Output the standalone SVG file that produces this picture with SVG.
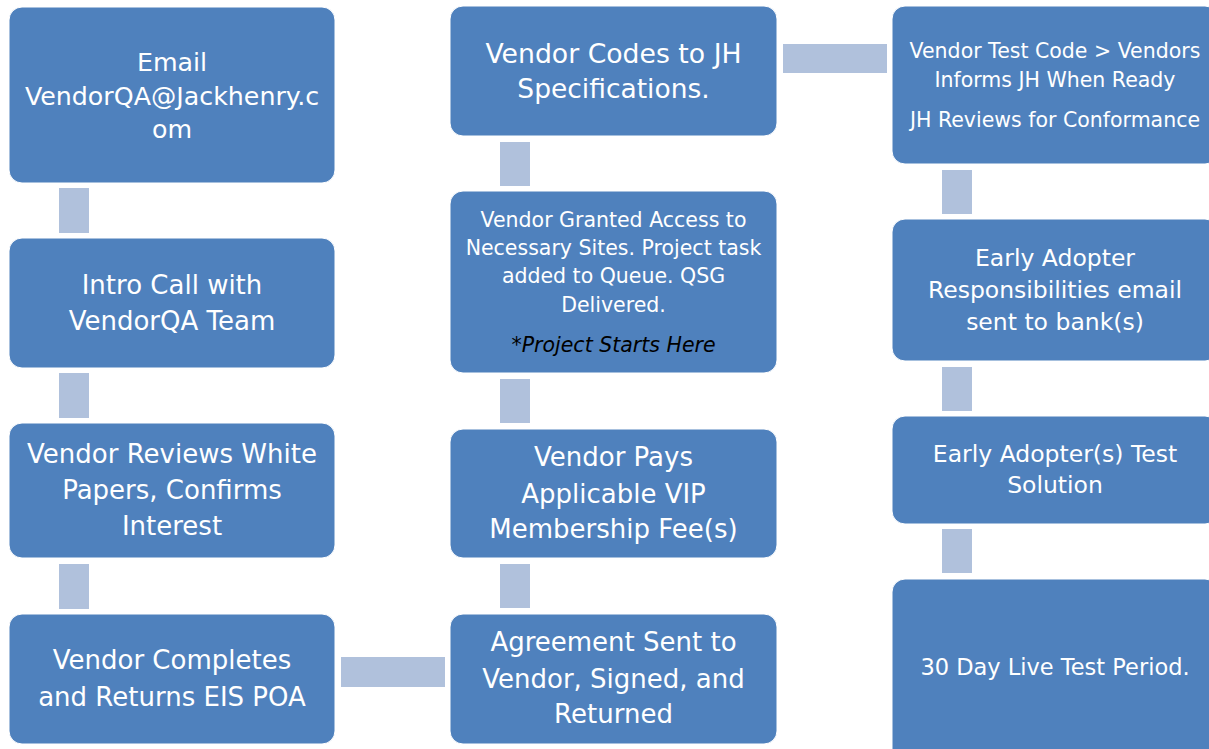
<svg xmlns="http://www.w3.org/2000/svg" width="1209" height="749" viewBox="0 0 1209 749">
<style>
.box{fill:#4F81BD;stroke:#FFFFFF;stroke-width:1}
.con{fill:#B0C1DC}
text{font-family:"DejaVu Sans",Verdana,sans-serif;fill:#FFFFFF;text-anchor:middle}
.l{font-size:26px}
.m{font-size:23.5px}
.s{font-size:20.5px}
.it{font-style:italic;fill:#000000}
</style>
<rect width="1209" height="749" fill="#FFFFFF"/>
<g id="connectors">
<rect class="con" x="59" y="188" width="30" height="45"/>
<rect class="con" x="59" y="373" width="30" height="45"/>
<rect class="con" x="59" y="564" width="30" height="45"/>
<rect class="con" x="341" y="657" width="104" height="30"/>
<rect class="con" x="500" y="564" width="30" height="44"/>
<rect class="con" x="500" y="379" width="30" height="44"/>
<rect class="con" x="500" y="142" width="30" height="44"/>
<rect class="con" x="783" y="44" width="104" height="29"/>
<rect class="con" x="942" y="170" width="30" height="44"/>
<rect class="con" x="942" y="367" width="30" height="44"/>
<rect class="con" x="942" y="529" width="30" height="44"/>
</g>
<g id="n1">
<rect class="box" x="9" y="7" width="326" height="176" rx="13"/>
<text style="font-size:25.3px" x="172" y="71">Email</text>
<text style="font-size:25.3px" x="172" y="105">VendorQA@Jackhenry.c</text>
<text style="font-size:25.3px" x="172" y="138">om</text>
</g>
<g id="n2">
<rect class="box" x="9" y="238" width="326" height="130" rx="13"/>
<text class="l" x="172" y="294">Intro Call with</text>
<text class="l" x="172" y="330">VendorQA Team</text>
</g>
<g id="n3">
<rect class="box" x="9" y="423" width="326" height="135" rx="13"/>
<text class="l" x="172" y="463">Vendor Reviews White</text>
<text class="l" x="172" y="499">Papers, Confirms</text>
<text class="l" x="172" y="535">Interest</text>
</g>
<g id="n4">
<rect class="box" x="9" y="614" width="326" height="130" rx="13"/>
<text class="l" x="172" y="669">Vendor Completes</text>
<text class="l" x="172" y="706">and Returns EIS POA</text>
</g>
<g id="n5">
<rect class="box" x="450" y="614" width="327" height="130" rx="13"/>
<text class="l" x="613.5" y="651">Agreement Sent to</text>
<text class="l" x="613.5" y="688">Vendor, Signed, and</text>
<text class="l" x="613.5" y="723">Returned</text>
</g>
<g id="n6">
<rect class="box" x="450" y="429" width="327" height="129" rx="13"/>
<text class="l" x="613.5" y="466">Vendor Pays</text>
<text class="l" x="613.5" y="503">Applicable VIP</text>
<text class="l" x="613.5" y="538">Membership Fee(s)</text>
</g>
<g id="n7">
<rect class="box" x="450" y="191" width="327" height="182" rx="13"/>
<text class="s" x="613.5" y="227">Vendor Granted Access to</text>
<text class="s" x="613.5" y="255">Necessary Sites. Project task</text>
<text class="s" x="613.5" y="283">added to Queue. QSG</text>
<text class="s" x="613.5" y="312">Delivered.</text>
<text class="s it" x="613.5" y="352">*Project Starts Here</text>
</g>
<g id="n8">
<rect class="box" x="450" y="6" width="327" height="130" rx="13"/>
<text style="font-size:26.7px" x="613.5" y="63">Vendor Codes to JH</text>
<text style="font-size:26.5px" x="613.5" y="98">Specifications.</text>
</g>
<g id="n9">
<rect class="box" x="892" y="6" width="326" height="158" rx="13"/>
<text class="s" x="1055" y="58">Vendor Test Code &gt; Vendors</text>
<text class="s" x="1055" y="87">Informs JH When Ready</text>
<text class="s" x="1055" y="127">JH Reviews for Conformance</text>
</g>
<g id="n10">
<rect class="box" x="892" y="219" width="326" height="142" rx="13"/>
<text class="m" x="1055" y="266">Early Adopter</text>
<text class="m" x="1055" y="298">Responsibilities email</text>
<text class="m" x="1055" y="330">sent to bank(s)</text>
</g>
<g id="n11">
<rect class="box" x="892" y="416" width="326" height="108" rx="13"/>
<text class="m" x="1055" y="462">Early Adopter(s) Test</text>
<text class="m" x="1055" y="493">Solution</text>
</g>
<g id="n12">
<rect class="box" x="892" y="579" width="326" height="185" rx="13"/>
<text style="font-size:22.5px" x="1055" y="675">30 Day Live Test Period.</text>
</g>
</svg>
